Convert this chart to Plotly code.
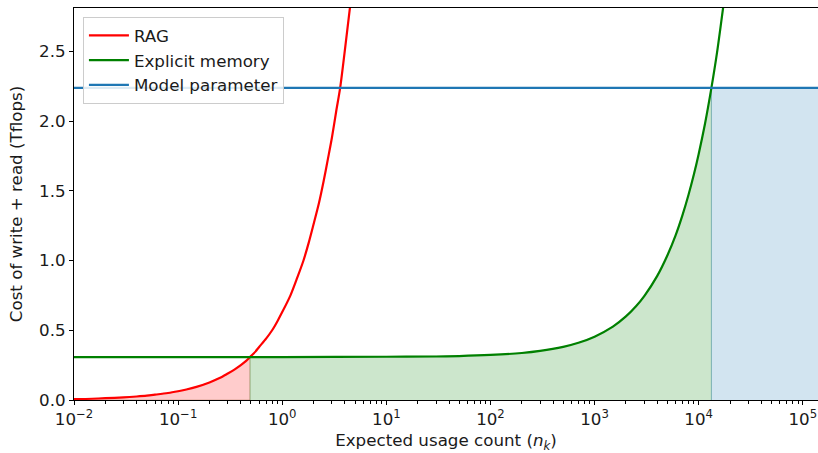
import plotly.graph_objects as go

# ---- data ----
rag_n = [0.01, 0.015, 0.02, 0.03, 0.04, 0.05, 0.06, 0.08, 0.1, 0.12, 0.15, 0.2, 0.25, 0.3,
         0.35, 0.4, 0.45, 0.49, 0.55, 0.6, 0.7, 0.8, 0.9, 1.0, 1.2, 1.4, 1.6, 1.8, 2.0,
         2.25, 2.5, 2.75, 3.0, 3.3, 3.6, 4.0, 4.5]
rag_cost = [0.006, 0.009, 0.013, 0.019, 0.025, 0.031, 0.038, 0.05, 0.063, 0.075, 0.094,
            0.126, 0.157, 0.19, 0.22, 0.25, 0.28, 0.308, 0.345, 0.38, 0.44, 0.50, 0.565,
            0.63, 0.75, 0.88, 1.0, 1.13, 1.26, 1.41, 1.57, 1.73, 1.88, 2.07, 2.237, 2.51,
            2.83]

mem_n = [0.01, 0.1, 0.49, 1, 10, 30, 50, 100, 200, 300, 500, 700, 1000, 1500, 2000, 2500,
         3000, 4000, 5000, 6000, 7000, 8000, 9000, 10000, 11500, 13250, 15000, 17500]
mem_cost = [0.308, 0.308, 0.308, 0.308, 0.31, 0.312, 0.315, 0.323, 0.337, 0.352, 0.381,
            0.41, 0.454, 0.526, 0.599, 0.672, 0.745, 0.89, 1.036, 1.18, 1.327, 1.473,
            1.618, 1.764, 1.98, 2.237, 2.49, 2.86]

param_cost = 2.237
x_min, x_max = 0.01, 140000
cross_rag_mem = 0.49
cross_mem_param = 13250

y_ticks = [0.0, 0.5, 1.0, 1.5, 2.0, 2.5]
x_ticks = [0.01, 0.1, 1, 10, 100, 1000, 10000, 100000]
x_ticktext = ["10<sup>\u22122</sup>", "10<sup>\u22121</sup>", "10<sup>0</sup>",
              "10<sup>1</sup>", "10<sup>2</sup>", "10<sup>3</sup>", "10<sup>4</sup>",
              "10<sup>5</sup>"]

RED, GREEN, BLUE = "#ff0000", "#008000", "#1f77b4"
font = "DejaVu Sans, Arial, sans-serif"
FS = 16.7

fig = go.Figure()

# red fill region
rx = [n for n in rag_n if n <= cross_rag_mem]
ry = [c for n, c in zip(rag_n, rag_cost) if n <= cross_rag_mem]
fig.add_trace(go.Scatter(x=rx + [rx[-1], rx[0]], y=ry + [0, 0], fill="toself",
                         fillcolor="rgba(255,0,0,0.2)", mode="lines",
                         line=dict(color="rgba(180,120,90,0.45)", width=1),
                         showlegend=False, hoverinfo="skip"))
# green fill region
gx = [n for n in mem_n if cross_rag_mem <= n <= cross_mem_param]
gy = [c for n, c in zip(mem_n, mem_cost) if cross_rag_mem <= n <= cross_mem_param]
fig.add_trace(go.Scatter(x=[gx[0]] + gx + [gx[-1]], y=[0] + gy + [0], fill="toself",
                         fillcolor="rgba(0,128,0,0.2)", mode="lines",
                         line=dict(color="rgba(0,128,0,0.2)", width=1),
                         showlegend=False, hoverinfo="skip"))
# blue fill region
fig.add_trace(go.Scatter(x=[cross_mem_param, cross_mem_param, x_max * 2, x_max * 2],
                         y=[0, param_cost, param_cost, 0], fill="toself",
                         fillcolor="rgba(31,119,180,0.2)", mode="lines",
                         line=dict(color="rgba(100,160,180,0.6)", width=1),
                         showlegend=False, hoverinfo="skip"))

fig.add_trace(go.Scatter(x=rag_n, y=rag_cost, mode="lines", name="RAG",
                         line=dict(color=RED, width=2.2, shape="spline", smoothing=0.8)))
fig.add_trace(go.Scatter(x=mem_n, y=mem_cost, mode="lines", name="Explicit memory",
                         line=dict(color=GREEN, width=2.2, shape="spline", smoothing=0.8)))
fig.add_trace(go.Scatter(x=[x_min / 2, x_max * 2], y=[param_cost, param_cost], mode="lines",
                         name="Model parameter", line=dict(color=BLUE, width=2.2)))

fig.update_layout(
    width=818, height=453,
    margin=dict(l=74, r=0, t=8, b=53),
    paper_bgcolor="white", plot_bgcolor="white",
    font=dict(family=font, size=FS, color="#1a1a1a"),
    legend=dict(x=0.012, y=0.977, xanchor="left", yanchor="top",
                bgcolor="rgba(255,255,255,0.85)", bordercolor="#cccccc", borderwidth=1,
                font=dict(size=FS), tracegroupgap=0, itemwidth=40),
    xaxis=dict(type="log", range=[-2, 5.146], tickvals=x_ticks, ticktext=x_ticktext,
               automargin=False,
               showgrid=False, zeroline=False, showline=True, linecolor="black",
               linewidth=1, mirror=True, ticks="outside", ticklen=4, tickcolor="black",
               tickfont=dict(size=FS),
               minor=dict(ticks="outside", ticklen=2.5, tickcolor="black", dtick="D1",
                          showgrid=False),
               title=dict(text="Expected usage count (<i>n</i><sub><i>k</i></sub>)",
                          standoff=11, font=dict(size=FS))),
    yaxis=dict(range=[0, 2.81], tickvals=y_ticks, tickformat=".1f", automargin=False,
               showgrid=False, zeroline=False, showline=True, linecolor="black",
               linewidth=1, ticks="outside", ticklen=4, tickcolor="black",
               tickfont=dict(size=FS),
               title=dict(text="Cost of write + read (Tflops)", standoff=12,
                          font=dict(size=FS))),
)

fig.write_html("out.html", config={"displayModeBar": False},
               post_script="document.body.style.margin='0';")
